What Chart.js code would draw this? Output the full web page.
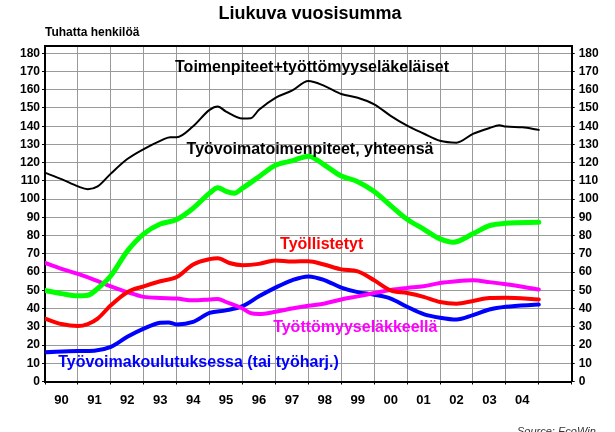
<!DOCTYPE html>
<html>
<head>
<meta charset="utf-8">
<script src="https://cdn.jsdelivr.net/npm/chart.js@4.4.1/dist/chart.umd.min.js"></script>
<style>
  html, body { margin: 0; padding: 0; background: #fff; }
</style>
</head>
<body>
<canvas id="chart" width="615" height="432"></canvas>
<script>
// Liukuva vuosisumma, tuhatta henkilöä
const yearLabels = ['90', '91', '92', '93', '94', '95', '96', '97', '98', '99', '00', '01', '02', '03', '04'];
const yTicks = [0, 10, 20, 30, 40, 50, 60, 70, 80, 90, 100, 110, 120, 130, 140, 150, 160, 170, 180];

// Toimenpiteet+työttömyyseläkeläiset
const totalYears = [1990, 1990.5, 1991, 1991.3, 1991.6, 1992, 1992.5, 1993, 1993.5, 1993.8, 1994, 1994.5, 1995, 1995.25, 1995.5, 1996, 1996.25, 1996.5, 1997, 1997.5, 1998, 1998.5, 1999, 1999.5, 2000, 2000.5, 2001, 2001.5, 2002, 2002.5, 2003, 2003.5, 2003.8, 2004, 2004.5, 2005];
const totalValues = [114.5, 111, 107, 105.5, 107, 114, 122, 127.5, 132, 134, 134, 140, 149, 150.8, 148, 144.2, 144.4, 149, 155.6, 159.5, 164.8, 162, 157.7, 155.6, 152, 145.7, 140.3, 136, 132, 131, 135.8, 139, 140.5, 139.8, 139.4, 138];

// Työvoimatoimenpiteet, yhteensä
const measuresYears = [1990, 1990.5, 1991, 1991.3, 1991.6, 1992, 1992.5, 1993, 1993.5, 1994, 1994.5, 1995, 1995.25, 1995.5, 1995.75, 1996, 1996.5, 1997, 1997.5, 1998, 1998.5, 1999, 1999.5, 2000, 2000.5, 2001, 2001.5, 2002, 2002.4, 2003, 2003.5, 2004, 2005];
const measuresValues = [50, 48.2, 47, 47.3, 51, 58, 71.5, 81, 86.4, 88.8, 95, 103.3, 106.3, 104.3, 103.3, 106, 112.3, 118.6, 121, 123.6, 118.6, 112.7, 109.6, 104.2, 96.5, 89, 83.6, 78.2, 76.4, 81, 85.5, 86.8, 87.3];

// Työllistetyt
const employedYears = [1990, 1990.5, 1991, 1991.3, 1991.6, 1992, 1992.5, 1993, 1993.5, 1994, 1994.5, 1995, 1995.25, 1995.6, 1996, 1996.5, 1997, 1997.5, 1998, 1998.5, 1999, 1999.5, 2000, 2000.5, 2001, 2001.5, 2002, 2002.5, 2003, 2003.5, 2004, 2005];
const employedValues = [34.5, 31.5, 30.4, 31.5, 34.5, 41.8, 49, 52.2, 55, 57.3, 64.2, 67.1, 67.6, 65, 63.8, 64.5, 66.4, 65.8, 66, 64, 61.5, 60.4, 55.5, 50, 48.5, 46.4, 43.6, 42.7, 44.2, 45.8, 46, 45];

// Työttömyyseläkkeellä
const pensionYears = [1990, 1990.5, 1991, 1991.5, 1992, 1992.5, 1993, 1993.5, 1994, 1994.5, 1995, 1995.25, 1995.5, 1996, 1996.25, 1996.5, 1997, 1997.5, 1998, 1998.5, 1999, 1999.5, 2000, 2000.5, 2001, 2001.5, 2002, 2002.5, 2003, 2003.5, 2004, 2005];
const pensionValues = [65, 61.8, 59, 55.8, 52.2, 49, 46.4, 45.8, 45.5, 44.5, 45, 45.3, 43.6, 40, 37.5, 37, 38.2, 40, 41.5, 42.8, 45, 46.7, 48.5, 50.2, 51.3, 52.2, 54, 55, 55.5, 54.5, 53.3, 50.5];

// Työvoimakoulutuksessa (tai työharj.)
const trainingYears = [1990, 1991, 1991.5, 1992, 1992.5, 1993, 1993.5, 1993.75, 1994, 1994.5, 1995, 1995.5, 1996, 1996.5, 1997, 1997.5, 1998, 1998.5, 1999, 1999.5, 2000, 2000.5, 2001, 2001.5, 2002, 2002.5, 2003, 2003.5, 2004, 2005];
const trainingValues = [16, 16.7, 16.9, 19, 24.5, 29, 32.2, 32.4, 31.3, 32.7, 37.6, 39, 41.3, 46.7, 51.5, 55.5, 57.6, 55.5, 51.5, 49, 47.6, 45.5, 41, 37, 35, 34, 36.4, 39.5, 41, 42.2];

const FONT = '"Liberation Sans", Arial, sans-serif';
const GRID = '#9a9a9a';

function points(xs, ys) {
    return xs.map((x, i) => ({ x: x, y: ys[i] }));
}

function line(label, xs, ys, color, width) {
    return {
        label: label,
        data: points(xs, ys),
        borderColor: color,
        backgroundColor: color,
        borderWidth: width,
        pointRadius: 0,
        cubicInterpolationMode: 'monotone',
        borderCapStyle: 'round',
        borderJoinStyle: 'round',
        fill: false
    };
}

// text placed inside the plot, positions in data units
const seriesTexts = [
    { text: 'Toimenpiteet+työttömyyseläkeläiset', color: '#000000', x: 1993.95, y: 169.8 },
    { text: 'Työvoimatoimenpiteet, yhteensä', color: '#000000', x: 1994.3, y: 125.0 },
    { text: 'Työllistetyt', color: '#ff0000', x: 1997.14, y: 72.6 },
    { text: 'Työttömyyseläkkeellä', color: '#ff00ff', x: 1996.93, y: 27.3 },
    { text: 'Työvoimakoulutuksessa (tai työharj.)', color: '#0000ff', x: 1990.4, y: 8.1 }
];

const textPlugin = {
    id: 'texts',
    afterDatasetsDraw(chart) {
        const { ctx, scales } = chart;
        ctx.save();
        ctx.textBaseline = 'alphabetic';
        ctx.textAlign = 'left';
        ctx.font = 'bold 16px ' + FONT;
        seriesTexts.forEach(t => {
            ctx.fillStyle = t.color;
            ctx.fillText(t.text, scales.x.getPixelForValue(t.x), scales.y.getPixelForValue(t.y));
        });

        ctx.fillStyle = '#000';
        ctx.textAlign = 'center';
        ctx.font = 'bold 18px ' + FONT;
        ctx.fillText('Liukuva vuosisumma', 310, 19);

        ctx.textAlign = 'left';
        ctx.font = 'bold 12px ' + FONT;
        ctx.fillText('Tuhatta henkilöä', 45, 36);

        ctx.fillStyle = '#333';
        ctx.font = 'italic 11px ' + FONT;
        ctx.fillText('Source: EcoWin', 517, 435);
        ctx.restore();
    }
};

const isYear = v => Math.abs(v - Math.round(v)) < 1e-6;

const config = {
    type: 'line',
    data: {
        datasets: [
            line('Toimenpiteet+työttömyyseläkeläiset', totalYears, totalValues, '#000000', 2),
            line('Työvoimatoimenpiteet, yhteensä', measuresYears, measuresValues, '#00ff00', 5),
            line('Työllistetyt', employedYears, employedValues, '#ff0000', 4),
            line('Työttömyyseläkkeellä', pensionYears, pensionValues, '#ff00ff', 4),
            line('Työvoimakoulutuksessa (tai työharj.)', trainingYears, trainingValues, '#0000ff', 4)
        ]
    },
    options: {
        responsive: false,
        animation: false,
        layout: { padding: { top: 46, left: 0, right: 0, bottom: 20.5 } },
        plugins: {
            legend: { display: false },
            tooltip: { enabled: false }
        },
        scales: {
            x: {
                type: 'linear',
                position: 'bottom',
                min: 1990,
                max: 2006,
                afterBuildTicks: s => {
                    const t = [];
                    for (let v = 1990; v <= 2006; v++) t.push({ value: v });
                    yearLabels.forEach((l, i) => t.push({ value: 1990.5 + i }));
                    s.ticks = t.sort((a, b) => a.value - b.value);
                },
                afterFit: s => { s.height = 30; },
                ticks: {
                    autoSkip: false,
                    maxRotation: 0,
                    padding: 8,
                    color: '#000',
                    font: { family: FONT, size: 13, weight: 'bold' },
                    callback: v => isYear(v) ? '' : (yearLabels[Math.floor(v) - 1990] || '')
                },
                grid: {
                    color: c => (isYear(c.tick.value) && c.tick.value > 1990 && c.tick.value < 2006) ? GRID : 'rgba(0,0,0,0)',
                    tickColor: c => isYear(c.tick.value) ? '#000' : 'rgba(0,0,0,0)',
                    tickLength: 3,
                    lineWidth: 1
                },
                border: { color: '#000', width: 2 }
            },
            xTop: {
                type: 'linear',
                position: 'top',
                min: 1990,
                max: 2006,
                afterFit: s => { s.height = 0; },
                ticks: { display: false },
                grid: { drawOnChartArea: false, drawTicks: false },
                border: { color: '#000', width: 2 }
            },
            y: {
                position: 'left',
                min: 0,
                max: 184,
                afterBuildTicks: s => { s.ticks = yTicks.map(v => ({ value: v })); },
                afterFit: s => { s.width = 45; },
                ticks: {
                    padding: 2,
                    color: '#000',
                    font: { family: FONT, size: 12, weight: 'bold' }
                },
                grid: {
                    color: c => c.tick.value === 0 ? 'rgba(0,0,0,0)' : GRID,
                    tickColor: '#000',
                    tickLength: 3,
                    lineWidth: 1
                },
                border: { color: '#000', width: 2 }
            },
            yRight: {
                position: 'right',
                min: 0,
                max: 184,
                afterBuildTicks: s => { s.ticks = yTicks.map(v => ({ value: v })); },
                afterFit: s => { s.width = 43.3; },
                ticks: {
                    padding: 4,
                    color: '#000',
                    font: { family: FONT, size: 12, weight: 'bold' }
                },
                grid: {
                    drawOnChartArea: false,
                    tickColor: '#000',
                    tickLength: 3
                },
                border: { color: '#000', width: 2 }
            }
        }
    },
    plugins: [textPlugin]
};

const myChart = new Chart(document.getElementById('chart').getContext('2d'), config);
</script>
</body>
</html>
